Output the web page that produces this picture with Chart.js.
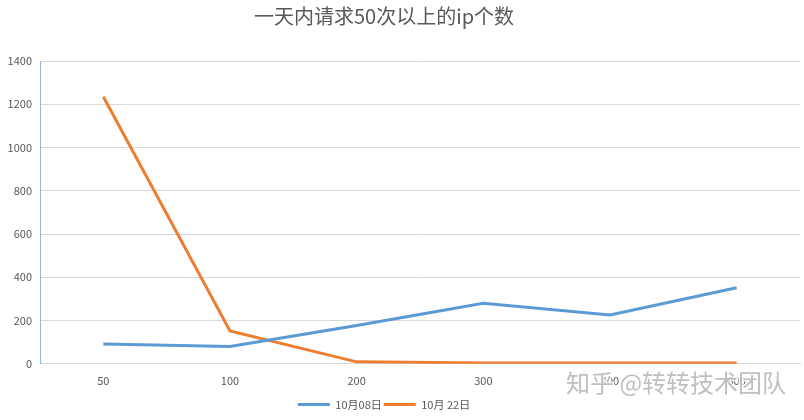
<!DOCTYPE html>
<html>
<head>
<meta charset="utf-8">
<script src="https://cdn.jsdelivr.net/npm/chart.js@4.4.0/dist/chart.umd.min.js"></script>
<style>
  html, body { margin: 0; padding: 0; background: #fff; overflow: hidden; }
  #wrap { width: 804px; height: 420px; }
</style>
</head>
<body>
<div id="wrap"><canvas id="grafico"></canvas></div>
<script>
// Datos
const categorias = ['50', '100', '200', '300', '400', '500'];
const serieOct08 = [92, 80, 177, 280, 226, 352];
const serieOct22 = [1235, 152, 9, 4, 4, 4];
const nombresSeries = ['10月08日', '10月 22日'];
const ticksY = [0, 200, 400, 600, 800, 1000, 1200, 1400];
const titulo = '一天内请求50次以上的ip个数';
const marcaAgua = '知乎 @转转技术团队';

const fuente = '"Noto Sans CJK SC", "Noto Sans", sans-serif';
const gris = '#595959';

// Desplazar título y leyenda un poco a la izquierda, como en el original
const ajusteCentro = {
    id: 'ajusteCentro',
    afterLayout(chart) {
        if (chart.titleBlock) chart.titleBlock.right -= 32;
        if (chart.legend) chart.legend.right -= 32;
    }
};

// Marca de agua en la esquina inferior derecha
const marca = {
    id: 'marca',
    afterDraw(chart) {
        const ctx = chart.ctx;
        ctx.save();
        ctx.font = '24px ' + fuente;
        ctx.textBaseline = 'middle';
        ctx.lineWidth = 3;
        ctx.strokeStyle = 'rgba(255,255,255,0.8)';
        ctx.strokeText(marcaAgua, 566, 383);
        ctx.fillStyle = 'rgba(175,175,175,0.8)';
        ctx.fillText(marcaAgua, 566, 383);
        ctx.restore();
    }
};

const ctx = document.getElementById('grafico').getContext('2d');
const miGrafico = new Chart(ctx, {
    type: 'line',
    data: {
        labels: categorias,
        datasets: [{
            label: nombresSeries[0],
            data: serieOct08,
            borderColor: '#5b9bd5',
            backgroundColor: '#5b9bd5',
            borderWidth: 3,
            pointRadius: 0,
            tension: 0
        }, {
            label: nombresSeries[1],
            data: serieOct22,
            borderColor: '#ed7d31',
            backgroundColor: '#ed7d31',
            borderWidth: 3,
            pointRadius: 0,
            tension: 0
        }]
    },
    options: {
        responsive: true,
        maintainAspectRatio: false,
        animation: false,
        layout: { padding: { left: 0, right: 4, top: 0, bottom: 0 } },
        plugins: {
            title: {
                display: true,
                text: titulo,
                color: gris,
                font: { family: fuente, size: 20, weight: 'normal' },
                padding: { top: 4, bottom: 33 }
            },
            legend: {
                position: 'bottom',
                labels: {
                    color: gris,
                    font: { family: fuente, size: 11 },
                    boxWidth: 32,
                    boxHeight: 3,
                    padding: 2,
                    generateLabels(chart) {
                        return chart.data.datasets.map((ds, i) => ({
                            text: ds.label,
                            fillStyle: ds.borderColor,
                            strokeStyle: ds.borderColor,
                            lineWidth: 0,
                            fontColor: gris,
                            datasetIndex: i,
                            hidden: false
                        }));
                    }
                }
            },
            tooltip: { enabled: false }
        },
        scales: {
            x: {
                offset: true,
                grid: { display: false, drawTicks: false },
                border: { color: '#d9d9d9', width: 1 },
                ticks: {
                    color: gris,
                    font: { family: fuente, size: 11 },
                    padding: 10,
                    maxRotation: 0
                }
            },
            y: {
                min: 0,
                max: 1400,
                afterBuildTicks(scale) {
                    scale.ticks = ticksY.map(v => ({ value: v }));
                },
                afterFit(scale) {
                    scale.width = 40;
                },
                grid: { color: '#d9d9d9', drawTicks: false },
                border: { color: '#8fb8dc', width: 1 },
                ticks: {
                    color: gris,
                    font: { family: fuente, size: 11 },
                    padding: 8,
                    callback: (valor) => String(valor)
                }
            }
        }
    },
    plugins: [ajusteCentro, marca]
});
</script>
</body>
</html>
